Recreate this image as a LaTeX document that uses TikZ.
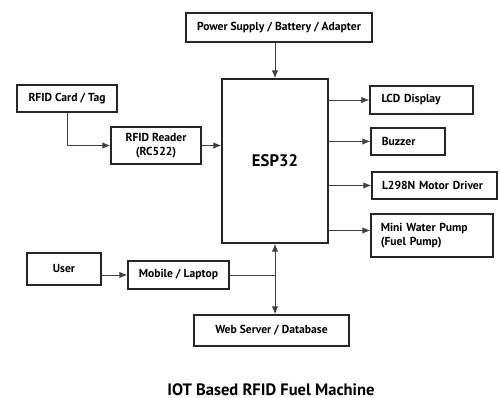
\documentclass[tikz,border=0pt]{standalone}
\usepackage{fontspec}
\setmainfont{PT Sans}
\usetikzlibrary{arrows.meta,positioning,calc}
\tikzset{
  doboz/.style={draw=black!85,line width=0.8pt,inner sep=2pt,font=\bfseries\fontsize{6.6}{7.6}\selectfont,align=center},
  balra/.style={align=left,text width=#1},
  nyil/.style={-{Latex[length=1.6mm,width=1.3mm]},line width=0.55pt,black!75},
  ketnyil/.style={{Latex[length=1.6mm,width=1.3mm]}-{Latex[length=1.6mm,width=1.3mm]},line width=0.55pt,black!75},
}
\begin{document}
\begin{tikzpicture}[x=0.02cm,y=-0.02cm]
  \useasboundingbox (0,0) rectangle (500,398);
  % doboz-ok
  \node[doboz,minimum width=186*0.02cm,minimum height=29*0.02cm] (power) at (279,27.5) {Power Supply / Battery / Adapter};
  \node[doboz,minimum width=106*0.02cm,minimum height=164*0.02cm,font=\bfseries\fontsize{9.5}{10}\selectfont] (esp) at (275,161) {ESP32};
  \node[doboz,minimum width=100*0.02cm,minimum height=27*0.02cm] (card) at (67,98.5) {RFID Card / Tag};
  \node[doboz,minimum width=90*0.02cm,minimum height=37*0.02cm] (reader) at (156,145.5) {RFID Reader\\(RC522)};
  \node[doboz,balra=1.6cm,minimum width=103*0.02cm,minimum height=28*0.02cm] (lcd) at (421.5,100) {LCD Display};
  \node[doboz,balra=1.05cm,minimum width=74*0.02cm,minimum height=27*0.02cm] (buzzer) at (408,141.5) {Buzzer};
  \node[doboz,balra=2.1cm,minimum width=125*0.02cm,minimum height=27*0.02cm] (motor) at (434.5,185.5) {L298N Motor Driver};
  \node[doboz,balra=2.05cm,minimum width=122*0.02cm,minimum height=43*0.02cm] (pump) at (432,235.5) {Mini Water Pump\\(Fuel Pump)};
  \node[doboz,minimum width=74*0.02cm,minimum height=32*0.02cm] (user) at (64,269) {User};
  \node[doboz,minimum width=101*0.02cm,minimum height=28*0.02cm] (mobile) at (178.5,275) {Mobile / Laptop};
  \node[doboz,minimum width=155*0.02cm,minimum height=31*0.02cm] (web) at (271.5,330.5) {Web Server / Database};
  \node[font=\bfseries\fontsize{9.4}{11}\selectfont] (cim) at (271,390) {IOT Based RFID Fuel Machine};
  % nyilak
  \draw[nyil] (esp.north |- power.south) -- (esp.north);
  \draw[nyil] (card.south) |- (reader.west);
  \draw[nyil] (reader.east) -- (reader.east -| esp.west);
  \draw[nyil] (lcd.west -| esp.east) -- (lcd.west);
  \draw[nyil] (buzzer.west -| esp.east) -- (buzzer.west);
  \draw[nyil] (motor.west -| esp.east) -- (motor.west);
  \draw[nyil] ([yshift=0.1cm]pump.west -| esp.east) -- ([yshift=0.1cm]pump.west);
  \draw[nyil] (user.east |- mobile.west) -- (mobile.west);
  \draw[black!75,line width=0.55pt] (mobile.east) -- (mobile.east -| esp.south);
  \draw[ketnyil] (esp.south) -- (esp.south |- web.north);
\end{tikzpicture}
\end{document}
